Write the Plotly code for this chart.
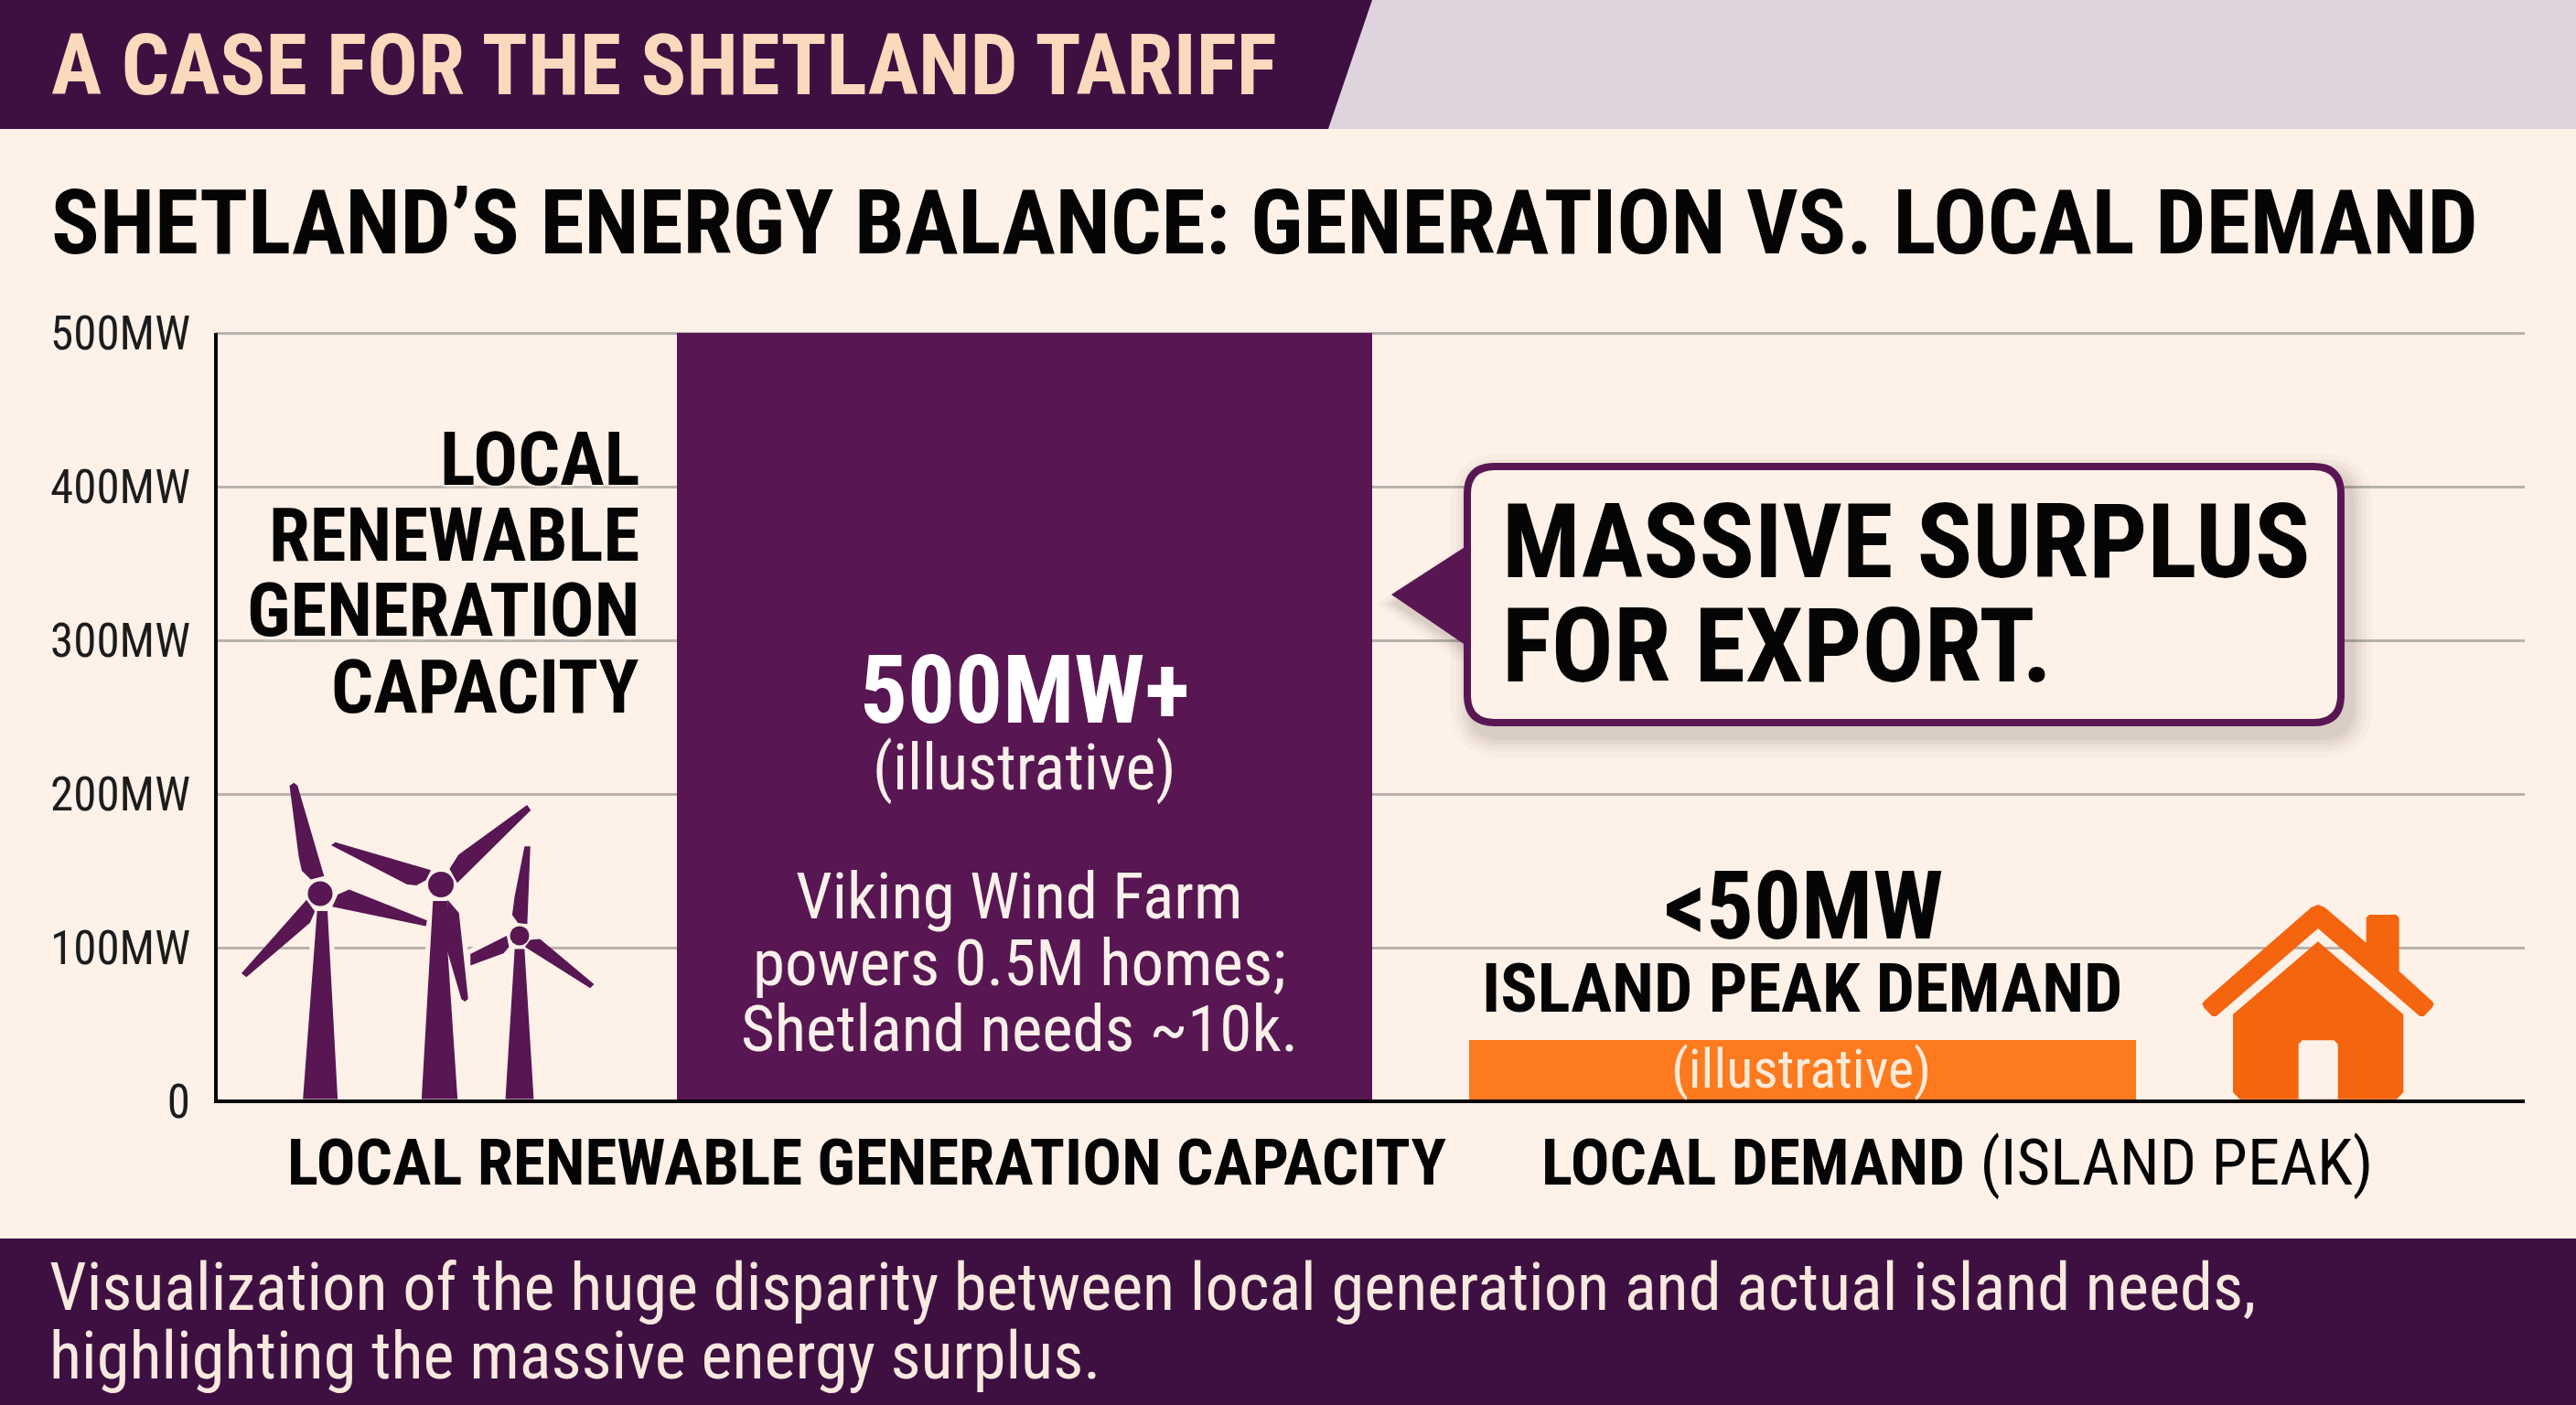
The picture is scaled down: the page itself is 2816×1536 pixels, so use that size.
import plotly.graph_objects as go

WIDTH = 2816
HEIGHT = 1536

BG = "#FDF1E8"
DARK = "#3E1042"
PURPLE = "#581752"
ORANGE = "#FD7A1E"
HOUSE = "#F5640E"
NARROW = "Roboto Condensed"

# chart values
categories = ["Local renewable generation capacity", "Local demand (island peak)"]
capacity_mw = [500, 40]
y_ticks = [0, 100, 200, 300, 400, 500]
y_tick_labels = ["0", "100MW", "200MW", "300MW", "400MW", "500MW"]

# texts
banner_title = "A CASE FOR THE SHETLAND TARIFF"
main_title = "SHETLAND’S ENERGY BALANCE: GENERATION VS. LOCAL DEMAND"
side_label = ["LOCAL", "RENEWABLE", "GENERATION", "CAPACITY"]
surplus_lines = ["MASSIVE SURPLUS", "FOR EXPORT."]
viking_lines = ["Viking Wind Farm", "powers 0.5M homes;", "Shetland needs ~10k."]
footer_lines = [
    "Visualization of the huge disparity between local generation and actual island needs,",
    "highlighting the massive energy surplus.",
]


def px(x):
    return x / WIDTH


def py(y):
    return 1 - y / HEIGHT


def poly_path(points):
    return "M " + " L ".join(f"{px(x):.5f},{py(y):.5f}" for x, y in points) + " Z"


def round_rect_path(x0, y0, x1, y1, r):
    return (
        f"M {px(x0 + r):.5f},{py(y0):.5f} L {px(x1 - r):.5f},{py(y0):.5f} "
        f"Q {px(x1):.5f},{py(y0):.5f} {px(x1):.5f},{py(y0 + r):.5f} "
        f"L {px(x1):.5f},{py(y1 - r):.5f} "
        f"Q {px(x1):.5f},{py(y1):.5f} {px(x1 - r):.5f},{py(y1):.5f} "
        f"L {px(x0 + r):.5f},{py(y1):.5f} "
        f"Q {px(x0):.5f},{py(y1):.5f} {px(x0):.5f},{py(y1 - r):.5f} "
        f"L {px(x0):.5f},{py(y0 + r):.5f} "
        f"Q {px(x0):.5f},{py(y0):.5f} {px(x0 + r):.5f},{py(y0):.5f} Z"
    )


def add_path(fig, path, fill, line=None, line_width=0, opacity=1):
    fig.add_shape(
        type="path", path=path, xref="paper", yref="paper", layer="above",
        fillcolor=fill, opacity=opacity,
        line=dict(color=line or fill, width=line_width),
    )


def add_circle(fig, cx, cy, r, fill):
    fig.add_shape(
        type="circle", xref="paper", yref="paper", layer="above",
        x0=px(cx - r), x1=px(cx + r), y0=py(cy + r), y1=py(cy - r),
        fillcolor=fill, line=dict(width=0),
    )


def add_text(fig, x, y, text, size, color="#050505", bold=False, anchor="center", family=NARROW, halo=False):
    fig.add_annotation(
        x=px(x), y=py(y), xref="paper", yref="paper", text=text, showarrow=False,
        xanchor=anchor, yanchor="middle", align=anchor,
        font=dict(
            family=family, size=size, color=color, weight=700 if bold else 400,
            shadow=f"0 0 5px {BG}, 0 0 5px {BG}, 0 0 5px {BG}" if halo else "none",
        ),
    )


def turbine_zoom(points):
    return [(200 + x / 3, 820 + y / 3) for x, y in points]


def house_zoom(points):
    return [(2380 + x / 3, 960 + y / 3) for x, y in points]


fig = go.Figure()

fig.add_trace(go.Bar(
    x=categories,
    y=capacity_mw,
    width=[0.894, 0.857],
    marker=dict(color=[PURPLE, ORANGE], line=dict(width=0)),
    hoverinfo="skip",
))

# banner and footer
add_path(fig, poly_path([(1440, 0), (WIDTH, 0), (WIDTH, 141), (1440, 141)]), "#DFD3DE")
add_path(fig, poly_path([(0, 0), (1500, 0), (1452, 141), (0, 141)]), DARK)
add_path(fig, poly_path([(0, 1354), (WIDTH, 1354), (WIDTH, HEIGHT), (0, HEIGHT)]), DARK)

# turbines
towers = [
    [(442, 530), (472, 530), (505, 1142), (396, 1142)],
    [(822, 497), (865, 497), (865, 645), (898, 1142), (785, 1142)],
    [(1090, 655), (1118, 655), (1148, 1142), (1060, 1142)],
]
blades = [
    [(352, 118), (364, 110), (374, 118), (460, 412), (420, 422), (392, 395), (382, 350)],
    [(493, 512), (510, 475), (545, 460), (798, 560), (795, 575)],
    [(405, 495), (430, 530), (415, 565), (208, 742), (195, 732)],
    [(490, 312), (500, 305), (810, 395), (795, 425), (765, 442), (735, 438)],
    [(877, 390), (905, 345), (1128, 183), (1138, 197), (900, 432)],
    [(870, 497), (903, 535), (933, 815), (925, 822), (915, 815), (865, 645)],
    [(1122, 318), (1137, 318), (1127, 568), (1100, 565), (1082, 540), (1090, 480)],
    [(1125, 645), (1140, 625), (1170, 622), (1345, 768), (1335, 778)],
    [(945, 670), (1060, 612), (1067, 645), (1050, 665), (945, 703)],
]
for pts in towers + [blades[5], blades[8]]:
    add_path(fig, poly_path(turbine_zoom(pts)), BG, BG, 12)
for pts in towers + blades:
    add_path(fig, poly_path(turbine_zoom(pts)), PURPLE, PURPLE, 1.5)
add_circle(fig, 350, 977, 13.5, PURPLE)
add_circle(fig, 482, 967, 14, PURPLE)
add_circle(fig, 568, 1023, 10.5, PURPLE)

# house
roof = [(440, 96), (462, 87), (484, 96), (620, 212), (620, 130), (630, 120), (718, 120), (728, 130), (728, 305),
        (832, 400), (842, 412), (836, 425), (809, 453), (796, 453), (462, 165), (128, 453), (115, 453),
        (88, 425), (82, 412), (92, 400)]
body = [(462, 208), (742, 447), (742, 702), (720, 725), (205, 725), (183, 702), (183, 447)]
door = [(398, 545), (410, 532), (515, 532), (527, 545), (527, 725), (398, 725)]
add_path(fig, poly_path(house_zoom(roof)), HOUSE)
add_path(fig, poly_path(house_zoom(body)), HOUSE)
add_path(fig, poly_path(house_zoom(door)), BG)

# callout: soft shadow first, then tail and box
for grow, alpha in [(22, 0.025), (16, 0.03), (11, 0.035), (7, 0.04), (3, 0.05)]:
    add_path(fig, round_rect_path(1600 + 8 - grow, 506 + 12 - grow, 2563 + 8 + grow, 794 + 12 + grow, 34 + grow),
             "#3a2a2a", opacity=alpha)
    add_path(fig, poly_path([(1610, 600 + 10 - grow), (1526 - grow, 660), (1610, 712 + grow)]),
             "#3a2a2a", opacity=alpha)
add_path(fig, poly_path([(1606, 595), (1521, 650), (1606, 708)]), PURPLE)
add_path(fig, round_rect_path(1604, 510, 2559, 790, 30), BG, PURPLE, 8)

# texts
add_text(fig, 54, 71, banner_title, 92.5, "#FCD9BC", True, "left")
add_text(fig, 54, 243, main_title, 98, "#050505", True, "left")

for line, y in zip(side_label, [503, 585, 668, 751]):
    add_text(fig, 701, y, line, 81, "#050505", True, "right", halo=True)

add_text(fig, 1120, 754, "500MW+", 103, "#FFFFFF", True)
add_text(fig, 1120, 839, "(illustrative)", 70, "#FBF0EA")
for line, y in zip(viking_lines, [979, 1052, 1124]):
    add_text(fig, 1114, y, line, 71, "#FBF0EA")

for line, y in zip(surplus_lines, [593, 706]):
    add_text(fig, 1640, y, line, 113, "#050505", True, "left")

add_text(fig, 1971, 990, "&lt;50MW", 103, "#050505", True, halo=True)
add_text(fig, 1970, 1080, "ISLAND PEAK DEMAND", 75, "#050505", True, halo=True)
add_text(fig, 1969, 1168, "(illustrative)", 60, "#FDEBD9")

add_text(fig, 947, 1270, "LOCAL RENEWABLE GENERATION CAPACITY", 71, "#050505", True, halo=True)
add_text(fig, 2139, 1270, "<b>LOCAL DEMAND</b> (ISLAND PEAK)", 71, "#050505")

for line, y in zip(footer_lines, [1407, 1482]):
    add_text(fig, 52, y, line, 72.5, "#F9E9DE", False, "left")

# the range runs just past 500 so plotly keeps the 500MW gridline
fig.update_layout(
    width=WIDTH,
    height=HEIGHT,
    margin=dict(l=0, r=0, t=0, b=0),
    paper_bgcolor=BG,
    plot_bgcolor=BG,
    showlegend=False,
    bargap=0,
    xaxis=dict(
        domain=[px(236), px(2760)],
        range=[-1.039, 1.928],
        showticklabels=False,
        ticks="",
        showgrid=False,
        zeroline=False,
        fixedrange=True,
        automargin=False,
    ),
    yaxis=dict(
        domain=[py(1204), py(364 - 2 * 1.68)],
        range=[0, 502],
        tickmode="array",
        tickvals=y_ticks,
        ticktext=y_tick_labels,
        ticks="",
        ticklabelstandoff=27,
        tickfont=dict(family=NARROW, size=51, color="#1c1c1c"),
        showgrid=True,
        gridcolor="#B8B3AD",
        gridwidth=2.5,
        zeroline=False,
        showline=False,
        fixedrange=True,
        automargin=False,
    ),
)

# axis lines as shapes so they sit over the bars' bottom edge
fig.add_shape(type="line", xref="paper", yref="paper", layer="above",
              x0=px(236), x1=px(2760), y0=py(1204), y1=py(1204), line=dict(color="#050505", width=4))
fig.add_shape(type="line", xref="paper", yref="paper", layer="above",
              x0=px(236), x1=px(236), y0=py(1206), y1=py(364), line=dict(color="#050505", width=4))

fig.write_html("out.html", config=dict(displayModeBar=False),
               post_script="document.body.style.margin='0';")
